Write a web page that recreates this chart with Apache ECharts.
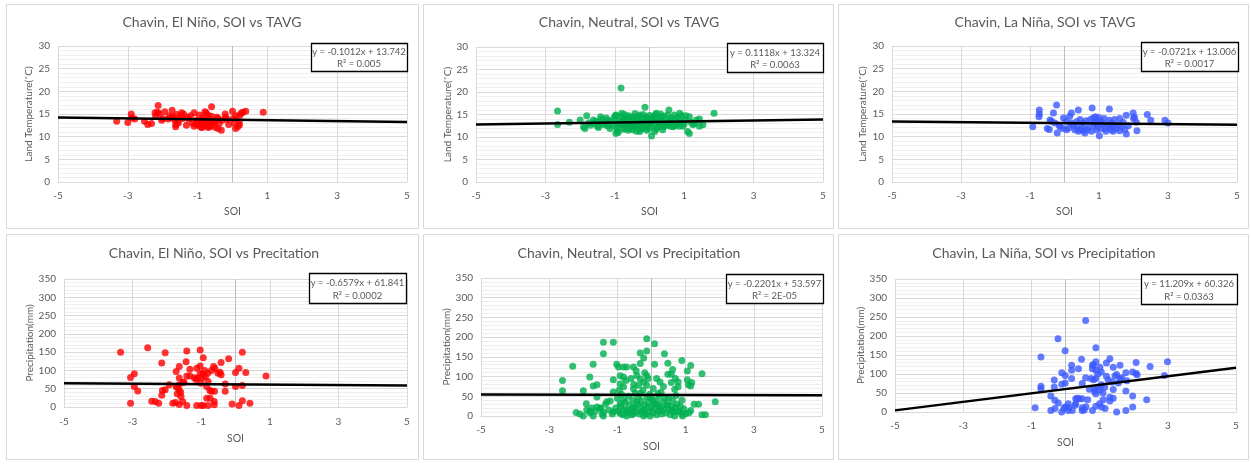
<!DOCTYPE html>
<html>
<head>
<meta charset="utf-8">
<script src="https://cdn.jsdelivr.net/npm/echarts@6/dist/echarts.min.js"></script>
<style>
  html, body { margin: 0; padding: 0; background: #fff; }
  #chart { width: 1251px; height: 466px; }
</style>
</head>
<body>
<div id="chart"></div>
<script>
// SOI (x) against monthly land temperature / precipitation (y) for Chavin, by ENSO phase.
const soiTicks = [-5, -3, -1, 1, 3, 5];

const elNinoTavg = [
  [-3.32,13.4],[-3.0,13.1],[-2.9,15.0],[-2.89,14.1],[-2.8,13.9],[-2.52,13.4],[-2.43,12.7],[-2.32,12.9],
  [-2.22,15.3],[-2.13,16.9],[-2.1,15.1],[-2.03,13.6],[-1.94,15.5],[-1.73,15.8],[-1.7,14.4],[-1.63,12.2],
  [-1.56,13.6],[-1.46,15.3],[-1.43,14.0],[-1.32,12.5],[-1.1,15.3],[-1.03,13.6],[-0.98,12.5],[-0.89,12.0],
  [-0.79,15.5],[-0.7,14.7],[-0.6,16.6],[-0.65,12.2],[-0.51,13.3],[-0.41,14.0],[-0.32,11.4],[-0.21,15.0],
  [-0.11,12.7],[0.0,15.6],[0.02,14.0],[0.09,11.8],[0.19,13.3],[0.21,14.7],[0.38,15.6],[0.88,15.4],
  [-1.1,12.3],[-1.05,12.8],[-1.0,13.2],[-0.95,14.8],[-0.95,12.6],[-0.9,13.5],[-0.88,12.1],[-0.85,14.2],
  [-0.8,12.9],[-0.8,13.8],[-0.75,12.4],[-0.75,15.2],[-0.7,13.1],[-0.7,12.0],[-0.65,13.9],[-0.62,12.6],
  [-0.6,14.5],[-0.55,13.2],[-0.5,12.1],[-0.45,14.3],[-0.42,11.8],[-0.38,12.9],[-1.2,14.6],[-1.25,13.9],
  [-1.3,14.3],[-1.4,15.0],[-1.5,14.5],[-1.55,13.0],[-1.6,14.9],[-1.65,13.6],[-1.75,14.2],[-1.8,14.6],
  [-1.85,13.9],[-2.2,14.5],[-2.0,14.0],[0.1,14.6],[0.15,12.2],[0.25,15.2],[0.3,15.4],[-0.3,13.6],
  [-0.2,14.3],[0.05,13.0],[-0.15,13.8],[-1.15,13.0],[-0.92,13.0],[-0.72,13.5],[-0.58,12.8],[-1.62,12.7],
  [-2.15,15.4],[0.2,12.6]
];

const neutralTavg = [
  [-2.65,15.8],[-2.65,12.8],[-2.31,13.3],[-2.0,13.8],[-1.81,14.7],[-1.86,11.9],[-1.62,13.8],[-1.47,12.1],
  [-1.41,14.5],[-1.28,13.0],[-1.19,13.8],[-1.14,11.9],[-0.97,14.9],[-0.97,10.8],[-0.9,13.0],[-0.8,15.3],
  [-0.75,14.0],[-0.71,11.9],[-0.61,14.7],[-0.56,13.0],[-0.47,14.5],[-0.42,12.3],[-0.37,13.8],[-0.28,14.9],
  [-0.23,11.9],[-0.13,16.6],[-0.08,14.2],[-0.03,13.0],[0.06,10.2],[0.11,14.5],[0.15,11.2],[0.2,15.3],
  [0.25,13.0],[0.34,14.5],[0.44,12.7],[0.56,16.0],[0.58,13.8],[0.68,12.3],[0.72,14.9],[0.87,15.3],
  [0.87,13.0],[0.96,12.4],[1.05,14.7],[1.1,11.2],[1.15,14.5],[1.15,10.8],[1.3,13.0],[1.44,14.0],
  [1.44,12.4],[1.54,12.7],[1.86,15.3],[-0.82,20.9],
  [-1.9,12.2],[-1.75,13.1],[-1.7,12.6],[-1.55,13.5],[-1.5,12.4],[-1.38,13.9],[-1.33,12.8],[-1.25,14.2],
  [-1.1,13.4],[-1.05,12.6],[-1.02,14.3],[-0.95,12.1],[-0.93,11.4],[-0.88,13.6],[-0.86,12.7],[-0.84,14.6],
  [-0.78,12.9],[-0.76,11.7],[-0.74,13.4],[-0.69,14.2],[-0.66,12.4],[-0.64,13.7],[-0.6,11.9],[-0.58,12.9],
  [-0.55,14.4],[-0.52,12.2],[-0.5,13.5],[-0.48,11.6],[-0.45,14.0],[-0.43,12.8],[-0.4,13.3],[-0.38,11.3],
  [-0.35,14.6],[-0.33,12.5],[-0.3,13.9],[-0.27,11.8],[-0.25,13.2],[-0.22,14.3],[-0.2,12.6],[-0.18,15.0],
  [-0.15,12.0],[-0.12,13.6],[-0.1,14.5],[-0.07,12.4],[-0.05,13.9],[-0.02,11.9],[0.0,14.8],[0.03,12.8],
  [0.05,13.5],[0.08,14.2],[0.12,12.3],[0.14,13.8],[0.17,15.0],[0.22,12.1],[0.24,14.0],[0.28,13.4],
  [0.3,12.5],[0.32,15.1],[0.36,13.7],[0.4,12.3],[0.42,14.6],[0.46,13.2],[0.5,12.6],[0.52,14.9],
  [0.55,13.4],[0.6,12.4],[0.63,14.3],[0.66,13.0],[0.7,12.5],[0.75,13.9],[0.78,12.7],[0.82,14.4],
  [0.85,12.4],[0.9,13.6],[0.93,14.8],[1.0,12.9],[1.02,13.7],[1.2,13.3],[1.25,12.7],[1.35,13.8],
  [-1.6,13.0],[-1.45,13.4],[-1.22,12.5],[-0.98,14.7],[-0.9,11.0],[-0.72,15.0],[-0.62,11.5],[-0.42,15.2],
  [-0.28,11.2],[-0.08,11.5],[0.2,11.8],[0.38,11.6]
];

const laNinaTavg = [
  [-0.92,12.2],[-0.73,15.9],[-0.73,15.0],[-0.74,14.4],[-0.42,13.7],[-0.44,11.6],[-0.32,15.2],[-0.23,17.0],
  [-0.28,13.0],[-0.21,10.8],[-0.13,12.2],[-0.03,14.1],[0.06,11.5],[0.2,15.2],[0.2,13.0],[0.4,15.9],
  [0.35,13.3],[0.45,11.5],[0.54,13.0],[0.59,10.8],[0.8,16.3],[0.83,14.1],[0.88,13.0],[0.93,11.5],
  [1.01,10.2],[1.08,13.3],[1.17,11.8],[1.3,16.1],[1.37,13.0],[1.41,11.2],[1.6,14.0],[1.79,14.7],
  [1.79,10.6],[1.99,15.2],[2.03,14.3],[2.08,13.2],[2.1,11.3],[2.4,14.9],[2.5,13.6],[2.91,13.6],
  [3.0,13.0],
  [0.25,12.5],[0.3,11.5],[0.35,12.0],[0.45,13.8],[0.5,12.2],[0.55,11.3],[0.62,13.5],[0.7,12.0],
  [0.75,13.8],[0.78,11.2],[0.85,12.6],[0.9,14.4],[0.95,12.2],[0.98,13.5],[1.05,11.8],[1.1,12.8],
  [1.15,14.0],[1.2,11.2],[1.25,12.5],[1.3,13.6],[1.35,11.5],[1.4,12.3],[1.45,13.8],[1.5,11.8],
  [1.55,12.6],[1.6,11.3],[1.65,12.2],[1.7,13.2],[-0.5,11.8],[-0.38,13.4],[-0.15,12.5],[-0.05,11.8],
  [0.05,13.4],[0.12,11.9],[0.15,14.5],[0.4,11.2],[0.65,11.6],[1.0,14.2],[1.3,12.2],[2.0,14.0],
  [1.85,12.4],[1.75,11.6]
];

const elNinoPrcp = [
  [-3.35,150],[-3.06,81],[-2.95,91],[-2.95,56],[-2.85,44],[-3.06,10],[-2.56,162],[-2.44,16],
  [-2.34,15],[-2.24,10],[-2.15,120],[-2.05,148],[-2.15,32],[-2.13,45],[-2.05,47],[-1.93,61],
  [-1.83,10],[-1.73,97],[-1.73,56],[-1.7,36],[-1.64,111],[-1.64,79],[-1.64,45],[-1.59,29],
  [-1.64,7],[-1.54,15],[-1.54,67],[-1.44,124],[-1.42,153],[-1.42,85],[-1.42,4],[-1.33,103],
  [-1.33,85],[-1.13,106],[-1.1,79],[-1.13,4],[-1.03,156],[-1.03,112],[-1.03,92],[-1.01,65],
  [-0.94,135],[-0.94,4],[-0.88,83],[-0.84,56],[-0.84,24],[-0.81,92],[-0.74,24],[-0.7,43],
  [-0.64,111],[-0.62,15],[-0.62,6],[-0.61,43],[-0.51,92],[-0.42,122],[-0.42,88],[-0.3,63],
  [-0.3,43],[-0.2,132],[-0.1,8],[0.0,94],[0.0,56],[0.1,106],[0.1,4],[0.2,150],
  [0.2,59],[0.2,17],[0.3,94],[0.42,10],[0.89,85],
  [-1.7,55],[-1.6,40],[-0.95,90],[-0.9,100],[-0.7,100],[-0.6,105],[-0.45,95],[-0.8,70],
  [-1.15,75],[-0.97,80],[-0.75,45],[-1.0,4],[-0.8,4],[-1.2,80],[-1.75,12],[-1.65,60],[-1.5,68]
];

const neutralPrcp = [
  [-2.61,90],[-2.61,64],[-2.31,126],[-2.21,9],[-2.0,64],[-2.0,0],[-1.91,31],[-1.81,99],
  [-1.81,12],[-1.71,131],[-1.71,76],[-1.71,0],[-1.6,79],[-1.6,48],[-1.6,23],[-1.51,19],
  [-1.41,187],[-1.41,158],[-1.41,10],[-1.41,0],[-1.31,36],[-1.21,38],[-1.12,187],[-1.12,92],
  [-1.12,61],[-1.12,10],[-1.02,131],[-0.97,124],[-0.92,102],[-0.92,81],[-0.92,31],[-0.92,7],
  [-0.82,124],[-0.82,99],[-0.82,74],[-0.82,40],[-0.73,124],[-0.73,14],[-0.73,0],[-0.53,22],
  [-0.53,124],[-0.53,69],[-0.53,6],[-0.43,103],[-0.43,36],[-0.38,78],[-0.33,160],[-0.33,133],
  [-0.33,94],[-0.33,58],[-0.23,147],[-0.23,86],[-0.23,14],[-0.23,0],[-0.14,196],[-0.14,165],
  [-0.14,103],[-0.14,78],[-0.14,48],[-0.04,0],[-0.04,48],[0.09,183],[0.09,131],[0.09,31],
  [0.19,57],[0.25,86],[0.28,14],[0.38,158],[0.4,44],[0.48,134],[0.48,106],[0.48,27],
  [0.58,106],[0.58,85],[0.6,14],[0.68,68],[0.68,0],[0.78,86],[0.78,74],[0.81,10],
  [0.89,141],[0.89,40],[0.91,0],[1.0,6],[1.05,114],[1.05,92],[1.08,79],[1.15,128],
  [1.18,85],[1.15,76],[1.15,14],[1.25,30],[1.38,30],[1.48,107],[1.48,3],[1.58,3],[1.87,36],
  [-1.5,20],[-1.45,5],[-1.35,30],[-1.25,15],[-1.15,5],[-1.05,20],[-1.0,45],[-0.97,12],
  [-0.9,25],[-0.88,55],[-0.85,3],[-0.8,18],[-0.77,35],[-0.7,8],[-0.68,50],[-0.65,28],
  [-0.6,15],[-0.58,3],[-0.55,40],[-0.5,20],[-0.48,58],[-0.45,10],[-0.4,30],[-0.38,48],
  [-0.35,5],[-0.32,22],[-0.3,38],[-0.28,12],[-0.25,65],[-0.2,28],[-0.18,5],[-0.12,20],
  [-0.1,35],[-0.08,10],[-0.05,55],[0.0,25],[0.02,42],[0.05,8],[0.08,18],[0.12,38],
  [0.15,3],[0.18,28],[0.2,12],[0.22,50],[0.25,22],[0.3,5],[0.32,35],[0.35,18],
  [0.42,8],[0.45,28],[0.5,45],[0.52,15],[0.55,3],[0.6,25],[0.62,40],[0.65,10],
  [0.7,20],[0.72,52],[0.75,30],[0.8,12],[0.85,25],[0.9,5],[0.95,18],[1.1,8],
  [-1.9,15],[-1.8,8],[-1.75,20],[-1.65,12],[-2.1,5],[-0.95,65],[-0.75,90],[-0.45,115],
  [-0.2,110],[0.15,95],[0.35,75],[0.62,118],[-0.6,95],[0.05,70],[-0.1,95],[0.28,60],
  [-0.52,80],[0.7,95]
];

const laNinaPrcp = [
  [-0.89,11],[-0.72,145],[-0.72,68],[-0.72,61],[-0.43,42],[-0.43,4],[-0.33,84],[-0.33,66],
  [-0.31,31],[-0.31,9],[-0.22,193],[-0.21,24],[-0.11,103],[-0.11,73],[-0.11,0],[-0.01,161],
  [-0.01,96],[-0.01,76],[-0.01,13],[0.08,22],[0.08,4],[0.18,123],[0.18,110],[0.18,88],
  [0.2,4],[0.28,18],[0.3,35],[0.38,114],[0.41,35],[0.47,139],[0.49,75],[0.49,35],
  [0.49,11],[0.49,4],[0.59,90],[0.59,241],[0.79,4],[0.79,114],[0.79,123],[0.82,85],
  [0.85,61],[0.85,54],[0.89,169],[0.89,132],[0.89,110],[0.89,88],[0.89,48],[0.89,15],
  [0.96,66],[1.0,22],[1.01,118],[1.01,57],[1.06,13],[1.11,32],[1.16,9],[1.2,94],
  [1.2,129],[1.3,140],[1.3,39],[1.3,29],[1.37,79],[1.4,118],[1.4,59],[1.5,99],
  [1.5,0],[1.6,123],[1.6,87],[1.77,103],[1.77,55],[1.77,4],[1.97,105],[1.97,42],
  [1.97,13],[2.07,130],[2.07,101],[2.38,32],[2.48,120],[2.9,96],[2.99,132],
  [-0.05,10],[0.1,12],[0.3,22],[0.35,36],[0.55,5],[0.6,14],[0.65,32],[0.7,60],
  [0.75,88],[0.95,100],[1.05,72],[1.1,50],[1.15,65],[1.25,85],[1.45,95],[1.55,76],
  [1.65,90],[0.82,125],[1.05,105],[1.4,36],[1.8,82],[2.1,98]
];

// Linear trendlines (y = slope * x + intercept) with their R² text
const trendSlopes     = [-0.1012, 0.1118, -0.0721, -0.6579, -0.2201, 11.209];
const trendIntercepts = [13.742, 13.324, 13.006, 61.841, 53.597, 60.326];
const trendR2         = ['0.005', '0.0063', '0.0017', '0.0002', '2E-05', '0.0363'];

const panelTitles = [
  'Chavin, El Niño, SOI vs TAVG',
  'Chavin, Neutral, SOI vs TAVG',
  'Chavin, La Niña, SOI vs TAVG',
  'Chavin, El Niño, SOI vs Precitation',
  'Chavin, Neutral, SOI vs Precipitation',
  'Chavin, La Niña, SOI vs Precipitation'
];
const panelData = [elNinoTavg, neutralTavg, laNinaTavg, elNinoPrcp, neutralPrcp, laNinaPrcp];
const phaseColors = ['#ff0000', '#00b050', '#3c5aff', '#ff0000', '#00b050', '#3c5aff'];
const yNames = ['Land Temperature(˚C)', 'Land Temperature(˚C)', 'Land Temperature(˚C)',
                'Precipitation(mm)', 'Precipitation(mm)', 'Precipitation(mm)'];
const yMax = [30, 30, 30, 350, 350, 350];
const yStep = [5, 5, 5, 50, 50, 50];

// Panel layout: outer frame, plot area, title centre, equation box
const layout = [
  { frame: [6, 4, 412, 224],   grid: [58, 46, 349, 136],  title: [212, 15],  box: [311, 43, 96, 28],  yGap: 24, xGap: 24, lm: 9 },
  { frame: [423, 4, 410, 224], grid: [476, 47, 347, 135], title: [629, 15],  box: [727, 43, 96, 29],  yGap: 23, xGap: 24, lm: 9 },
  { frame: [838, 4, 410, 224], grid: [892, 46, 345, 136], title: [1045, 15], box: [1141, 42, 97, 29], yGap: 24, xGap: 24, lm: 9 },
  { frame: [6, 234, 412, 225], grid: [64, 279, 343, 128], title: [214, 246], box: [309, 273, 97, 30], yGap: 29, xGap: 26, lm: 10 },
  { frame: [423, 234, 410, 225], grid: [481, 278, 341, 138], title: [629, 246], box: [726, 274, 97, 29], yGap: 28, xGap: 25, lm: 9 },
  { frame: [838, 234, 410, 225], grid: [895, 279, 341, 133], title: [1044, 246], box: [1141, 274, 96, 30], yGap: 27, xGap: 25, lm: 9 }
];

const FONT = 'Lato, "Open Sans", sans-serif';
const TEXT = '#595959';

function fmtEq(i) {
  const s = trendSlopes[i], b = trendIntercepts[i];
  return 'y = ' + s + 'x + ' + b;
}

const grids = [], xAxes = [], yAxes = [], series = [], titles = [], graphics = [];

layout.forEach((L, i) => {
  graphics.push({
    type: 'rect', z: -10, silent: true,
    shape: { x: L.frame[0] + 0.5, y: L.frame[1] + 0.5, width: L.frame[2], height: L.frame[3] },
    style: { fill: '#fff', stroke: '#d9d9d9', lineWidth: 1 }
  });

  grids.push({ left: L.grid[0], top: L.grid[1], width: L.grid[2], height: L.grid[3], containLabel: false });

  titles.push({
    text: panelTitles[i], left: L.title[0], top: L.title[1], textAlign: 'center', padding: 0,
    textStyle: { fontFamily: FONT, fontSize: 14, fontWeight: 'normal', color: TEXT }
  });

  xAxes.push({
    type: 'value', gridIndex: i, min: -5, max: 5, interval: 2,
    name: 'SOI', nameLocation: 'middle', nameGap: L.xGap,
    nameTextStyle: { fontFamily: FONT, fontSize: 10.5, color: TEXT },
    axisLine: { show: true, lineStyle: { color: '#d9d9d9' } },
    axisTick: { show: false },
    axisLabel: { fontFamily: FONT, fontSize: 10, color: TEXT, margin: L.lm,
                 customValues: soiTicks },
    splitLine: { show: true, lineStyle: { color: '#d9d9d9', width: 1 } }
  });

  yAxes.push({
    type: 'value', gridIndex: i, min: 0, max: yMax[i], interval: yStep[i],
    name: yNames[i], nameLocation: 'middle', nameGap: L.yGap,
    nameTextStyle: { fontFamily: FONT, fontSize: 10, color: TEXT },
    axisLine: { show: false }, axisTick: { show: false },
    axisLabel: { fontFamily: FONT, fontSize: 10, color: TEXT, margin: 8 },
    splitLine: { show: true, lineStyle: { color: '#d9d9d9', width: 1 } },
    minorTick: { show: false, splitNumber: 5 },
    minorSplitLine: { show: true, lineStyle: { color: '#efefef', width: 1 } }
  });

  series.push({
    type: 'scatter', xAxisIndex: i, yAxisIndex: i,
    data: panelData[i], symbol: 'circle', symbolSize: 7,
    itemStyle: { color: phaseColors[i] }, z: 2,
    markLine: {
      silent: true, symbol: ['none', 'none'], label: { show: false }, animation: false, z: 1,
      lineStyle: { color: '#bfbfbf', width: 1, type: 'solid' },
      data: [{ xAxis: 0 }]
    }
  });

  const s = trendSlopes[i], b = trendIntercepts[i];
  series.push({
    type: 'line', xAxisIndex: i, yAxisIndex: i, silent: true,
    data: [[-5, s * -5 + b], [5, s * 5 + b]],
    symbol: 'none', lineStyle: { color: '#000', width: 2.5 }, z: 3
  });

  const [bx, by, bw, bh] = L.box;
  graphics.push(
    { type: 'rect', z: 100, silent: true,
      shape: { x: bx + 0.5, y: by + 0.5, width: bw, height: bh },
      style: { fill: '#fff', stroke: '#000', lineWidth: 1.3 } },
    { type: 'text', z: 101, silent: true, x: bx + bw / 2, y: by + bh * 0.3 + 1,
      style: { text: fmtEq(i), textAlign: 'center', textVerticalAlign: 'middle',
               fill: TEXT, fontFamily: FONT, fontSize: 9.5 } },
    { type: 'text', z: 101, silent: true, x: bx + bw / 2, y: by + bh * 0.72 + 1,
      style: { text: 'R² = ' + trendR2[i], textAlign: 'center', textVerticalAlign: 'middle',
               fill: TEXT, fontFamily: FONT, fontSize: 9.5 } }
  );
});

const chart = echarts.init(document.getElementById('chart'), null, { renderer: 'canvas' });
chart.setOption({
  backgroundColor: '#ffffff',
  animation: false,
  title: titles,
  grid: grids,
  xAxis: xAxes,
  yAxis: yAxes,
  series: series,
  graphic: graphics
});
</script>
</body>
</html>
